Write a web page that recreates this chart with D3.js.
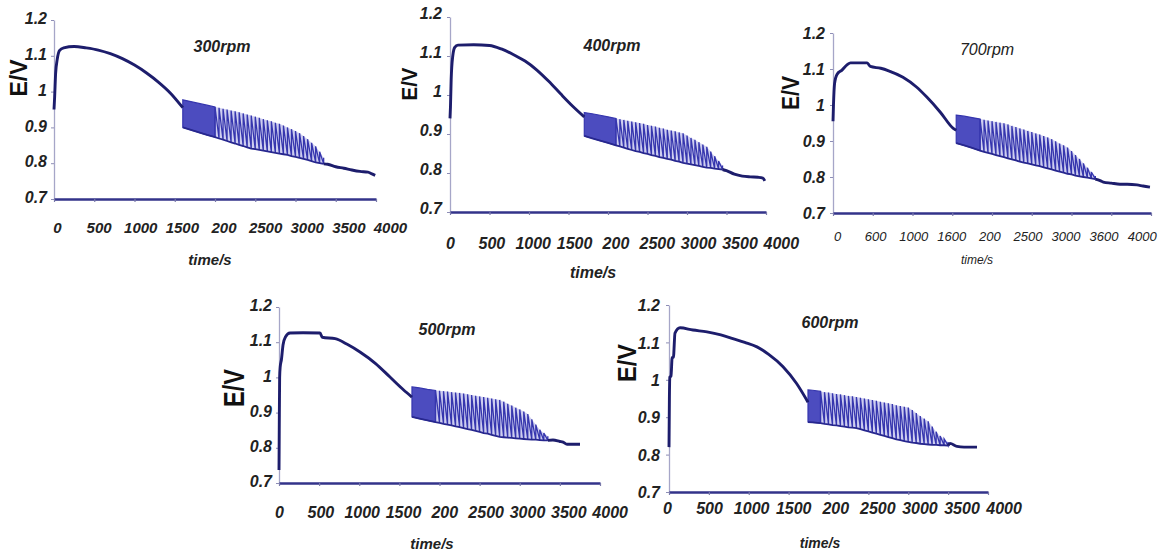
<!DOCTYPE html>
<html>
<head>
<meta charset="utf-8">
<script src="https://cdn.jsdelivr.net/npm/d3@7"></script>
<style>
    body { margin: 0; background: #fff; }
    text { font-family: "Liberation Sans", Arial, sans-serif; }
</style>
</head>
<body>
<script>
// tick values and labels (labels copied as printed, typos included)
const yTicks = [0.7, 0.8, 0.9, 1.0, 1.1, 1.2];
const yTickLabels = ['0.7', '0.8', '0.9', '1', '1.1', '1.2'];
const xTicks = [0, 500, 1000, 1500, 2000, 2500, 3000, 3500, 4000];
const xTickLabels = ['0', '500', '1000', '1500', '200', '2500', '3000', '3500', '4000'];
const xTickLabels700 = ['0', '600', '1000', '1600', '200', '2500', '3000', '3600', '4000'];

// ---- 300 rpm ----  [time, E]
const rise300 = [[0, 0.95], [8, 0.985], [20, 1.05], [40, 1.09], [70, 1.115], [120, 1.122], [250, 1.126],
    [400, 1.122], [550, 1.116], [700, 1.106], [850, 1.092], [1000, 1.074], [1150, 1.052], [1300, 1.026],
    [1450, 0.995], [1600, 0.955]];
// [time, high, low]
const dense300 = [[1600, 0.977, 0.900], [1700, 0.972, 0.893], [1800, 0.967, 0.886], [1900, 0.962, 0.879], [2000, 0.957, 0.873]];
const osc300 = [[2000, .957, .873], [2050, .955, .869], [2100, .952, .866], [2150, .950, .862], [2200, .947, .858],
    [2250, .945, .855], [2300, .942, .851], [2350, .939, .848], [2400, .936, .844], [2450, .933, .841],
    [2500, .930, .839], [2550, .927, .837], [2600, .923, .835], [2650, .920, .833], [2700, .917, .831],
    [2750, .913, .829], [2800, .910, .827], [2850, .905, .825], [2900, .900, .823], [2950, .895, .820],
    [3000, .890, .818], [3050, .884, .815], [3100, .876, .812], [3150, .867, .809], [3200, .857, .806],
    [3250, .847, .802], [3300, .832, .800], [3350, .815, .798]];
const tail300 = [[3400, 0.797], [3500, 0.790], [3600, 0.786], [3700, 0.781], [3800, 0.777], [3900, 0.775], [3950, 0.770], [3990, 0.766]];

// ---- 400 rpm ----
const rise400 = [[0, 0.94], [6, 0.97], [15, 1.04], [35, 1.10], [60, 1.122], [100, 1.128], [300, 1.129], [500, 1.127],
    [650, 1.118], [800, 1.104], [950, 1.087], [1100, 1.064], [1250, 1.035], [1400, 1.003], [1550, 0.972], [1700, 0.944]];
const dense400 = [[1700, 0.955, 0.895], [1800, 0.952, 0.889], [1900, 0.948, 0.883], [2000, 0.944, 0.877], [2100, 0.940, 0.871]];
const osc400 = [[2100, .940, .871], [2150, .938, .868], [2200, .936, .865], [2250, .934, .862], [2300, .932, .859],
    [2350, .930, .856], [2400, .928, .854], [2450, .926, .851], [2500, .923, .849], [2550, .921, .846],
    [2600, .919, .844], [2650, .916, .841], [2700, .914, .839], [2750, .911, .836], [2800, .909, .834],
    [2850, .907, .831], [2900, .904, .829], [2950, .902, .826], [3000, .896, .824], [3050, .890, .822],
    [3100, .885, .820], [3150, .879, .818], [3200, .873, .816], [3250, .867, .814], [3300, .855, .813],
    [3350, .843, .811], [3400, .831, .810], [3450, .819, .809]];
const tail400 = [[3500, 0.806], [3600, 0.797], [3700, 0.792], [3800, 0.790], [3900, 0.789], [3960, 0.787], [3985, 0.780]];

// ---- 700 rpm ----
const rise700 = [[0, 0.955], [6, 1.0], [20, 1.06], [50, 1.085], [113, 1.097], [180, 1.112], [220, 1.117], [430, 1.117],
    [470, 1.107], [600, 1.102], [700, 1.095], [880, 1.077], [1050, 1.05], [1180, 1.022], [1350, 0.98], [1509, 0.936], [1550, 0.93]];
const dense700 = [[1550, 0.972, 0.894], [1650, 0.969, 0.888], [1750, 0.965, 0.881], [1850, 0.961, 0.873]];
const osc700 = [[1850, .961, .873], [1900, .959, .870], [1950, .957, .867], [2000, .955, .864], [2050, .953, .861],
    [2100, .951, .858], [2150, .949, .855], [2200, .946, .852], [2250, .942, .849], [2300, .939, .846],
    [2350, .935, .843], [2400, .932, .840], [2450, .928, .838], [2500, .925, .835], [2550, .921, .832],
    [2600, .918, .830], [2650, .914, .827], [2700, .910, .824], [2750, .905, .821], [2800, .899, .818],
    [2850, .893, .815], [2900, .888, .812], [2950, .882, .809], [3000, .872, .807], [3050, .861, .804],
    [3100, .850, .802], [3150, .838, .800], [3200, .826, .798], [3250, .814, .796], [3300, .803, .794]];
const tail700 = [[3360, 0.790], [3400, 0.786], [3500, 0.783], [3610, 0.780], [3700, 0.780], [3824, 0.778], [3900, 0.775], [3987, 0.772]];

// ---- 500 rpm ----
const rise500 = [[0, 0.737], [3, 0.85], [8, 1.0], [15, 1.03], [30, 1.05], [50, 1.092], [80, 1.115], [137, 1.126], [300, 1.127],
    [511, 1.126], [540, 1.114], [700, 1.11], [850, 1.094], [1009, 1.072], [1200, 1.04], [1383, 1.001], [1550, 0.965], [1657, 0.944]];
const dense500 = [[1657, 0.973, 0.888], [1750, 0.970, 0.883], [1850, 0.966, 0.878], [1950, 0.963, 0.873]];
const osc500 = [[1950, .963, .873], [2000, .962, .871], [2050, .961, .868], [2100, .960, .866], [2150, .958, .864],
    [2200, .957, .861], [2250, .956, .859], [2300, .954, .856], [2350, .952, .853], [2400, .950, .851],
    [2450, .948, .848], [2500, .946, .845], [2550, .944, .842], [2600, .942, .840], [2650, .940, .837],
    [2700, .938, .834], [2750, .936, .831], [2800, .931, .830], [2850, .925, .829], [2900, .920, .828],
    [2950, .914, .827], [3000, .909, .826], [3050, .903, .825], [3100, .896, .824], [3150, .881, .823],
    [3200, .866, .823], [3250, .851, .822], [3300, .842, .821], [3350, .833, .821]];
const tail500 = [[3414, 0.822], [3500, 0.818], [3540, 0.816], [3589, 0.810], [3650, 0.810], [3751, 0.810]];

// ---- 600 rpm ----
const rise600 = [[0, 0.82], [5, 0.95], [10, 1.007], [25, 1.01], [40, 1.06], [55, 1.06], [75, 1.125], [138, 1.139], [300, 1.133],
    [476, 1.128], [650, 1.12], [800, 1.11], [950, 1.10], [1103, 1.088], [1250, 1.068], [1430, 1.035], [1600, 0.99], [1743, 0.94]];
const dense600 = [[1743, 0.973, 0.887], [1800, 0.972, 0.886], [1900, 0.969, 0.884]];
const osc600 = [[1900, .969, .884], [1950, .967, .882], [2000, .966, .881], [2050, .964, .879], [2100, .962, .878],
    [2150, .961, .876], [2200, .959, .875], [2250, .957, .873], [2300, .956, .872], [2350, .954, .871],
    [2400, .952, .868], [2450, .950, .865], [2500, .948, .862], [2550, .946, .859], [2600, .944, .856],
    [2650, .941, .853], [2700, .939, .850], [2750, .937, .847], [2800, .935, .844], [2850, .932, .841],
    [2900, .930, .839], [2950, .928, .836], [3000, .926, .834], [3050, .919, .832], [3100, .911, .831],
    [3150, .903, .829], [3200, .896, .828], [3250, .889, .827], [3300, .875, .826], [3350, .861, .826],
    [3400, .850, .825], [3450, .842, .825], [3500, .834, .824]];
const tail600 = [[3523, 0.830], [3611, 0.822], [3700, 0.820], [3862, 0.820]];

// layout of each small chart (pixel boxes)
// lbl: [offset, spread] for x tick labels, which drift from their ticks in the original
const panels = [
    { name: '300rpm', rise: rise300, dense: dense300, osc: osc300, tail: tail300, xl: xTickLabels,
      x0: 54, x1: 376, yTop: 20, yBot: 199, yLabX: 47, yLabDy: -2, xLabY: 233, xFont: 15, lbl: [3, 1.034],
      time: [210, 265, 15], rpm: [222, 52], ev: [18, 78, 37, 24] },
    { name: '400rpm', rise: rise400, dense: dense400, osc: osc400, tail: tail400, xl: xTickLabels,
      x0: 450, x1: 766, yTop: 17, yBot: 212, yLabX: 442, yLabDy: -4, xLabY: 249, xFont: 16, lbl: [0, 1.047],
      time: [593, 278, 16], rpm: [612, 51], ev: [409, 84, 33, 22] },
    { name: '700rpm', rise: rise700, dense: dense700, osc: osc700, tail: tail700, xl: xTickLabels700,
      x0: 833, x1: 1151, yTop: 33, yBot: 213, yLabX: 825, yLabDy: 0, xLabY: 241, xFont: 13, lbl: [4, 0.958],
      time: [977, 264, 12], rpm: [987, 55], ev: [791, 93, 34, 23] },
    { name: '500rpm', rise: rise500, dense: dense500, osc: osc500, tail: tail500, xl: xTickLabels,
      x0: 279, x1: 600, yTop: 307, yBot: 483, yLabX: 272, yLabDy: -2, xLabY: 518, xFont: 16, lbl: [0, 1.03],
      time: [432, 549, 15], rpm: [447, 335], ev: [233, 388, 38, 30] },
    { name: '600rpm', rise: rise600, dense: dense600, osc: osc600, tail: tail600, xl: xTickLabels,
      x0: 669, x1: 988, yTop: 305, yBot: 492, yLabX: 660, yLabDy: 0, xLabY: 514, xFont: 16, lbl: [-2, 1.055],
      time: [820, 548, 14], rpm: [830, 328], ev: [627, 363, 38, 25] }
];

const navy = '#1d1d6c';
const osc = '#3636ae';

const svg = d3.select('body').append('svg')
    .attr('width', 1158)
    .attr('height', 552);

function drawPanel(p) {
    let x = d3.scaleLinear().domain([0, 4000]).range([p.x0, p.x1]);
    let y = d3.scaleLinear().domain([0.7, 1.2]).range([p.yBot, p.yTop]);
    let g = svg.append('g').attr('class', 'panel');

    // y axis: thin grey-blue with small ticks
    let yAxis = g.append('g')
        .attr('transform', `translate(${p.x0},0)`)
        .call(d3.axisLeft(y).tickValues(yTicks).tickFormat((d, i) => yTickLabels[i]).tickSize(3).tickSizeOuter(0));
    yAxis.select('.domain').attr('stroke', '#a6a6c8').attr('stroke-width', 1.3);
    yAxis.selectAll('.tick line').attr('stroke', '#8e8eb6');
    yAxis.selectAll('.tick text')
        .attr('x', p.yLabX - p.x0)
        .attr('dy', '0.36em')
        .attr('transform', `translate(0,${p.yLabDy})`)
        .attr('text-anchor', 'end')
        .attr('fill', '#222')
        .style('font-size', '16px')
        .style('font-weight', 'bold')
        .style('font-style', 'italic');

    // x axis: thick navy line, ticks below
    let xAxis = g.append('g')
        .attr('transform', `translate(0,${p.yBot})`)
        .call(d3.axisBottom(x).tickValues(xTicks).tickFormat((d, i) => p.xl[i]).tickSize(3).tickSizeOuter(0));
    xAxis.select('.domain').attr('stroke', '#33338a').attr('stroke-width', 2.6);
    xAxis.selectAll('.tick line').attr('stroke', '#7a7aaa').attr('stroke-width', 1.2);
    xAxis.selectAll('.tick text')
        .attr('y', p.xLabY - p.yBot)
        .attr('dy', 0)
        .attr('x', d => p.lbl[0] + (x(d) - p.x0) * (p.lbl[1] - 1))
        .attr('fill', '#222')
        .style('font-size', p.xFont + 'px')
        .style('font-weight', p.xFont < 14 ? 'normal' : 'bold')
        .style('font-style', 'italic');

    let line = d3.line().x(d => x(d[0])).y(d => y(d[1]));
    let smooth = d3.line().x(d => x(d[0])).y(d => y(d[1])).curve(d3.curveMonotoneX);

    // light wash behind the oscillating part
    g.append('path')
        .datum(p.osc)
        .attr('d', d3.area().x(d => x(d[0])).y0(d => y(d[2])).y1(d => y(d[1])))
        .attr('fill', '#aeaee6')
        .attr('opacity', 0.6);

    // dense part right after the jump: drawn as a filled band
    g.append('path')
        .datum(p.dense)
        .attr('d', d3.area().x(d => x(d[0])).y0(d => y(d[2])).y1(d => y(d[1])))
        .attr('fill', '#4c4cbf')
        .attr('stroke', osc)
        .attr('stroke-width', 1.2);

    // oscillations: rise up to high, fall to next low
    let saw = [];
    p.osc.forEach(d => {
        saw.push([d[0], d[2]]);
        saw.push([d[0], d[1]]);
    });
    g.append('path')
        .datum(saw)
        .attr('d', line)
        .attr('fill', 'none')
        .attr('stroke', osc)
        .attr('stroke-width', 1.3);

    // darker bottom edge of the band
    g.append('path')
        .datum(p.dense.map(d => [d[0], d[2]]).concat(p.osc.map(d => [d[0], d[2]])))
        .attr('d', line)
        .attr('fill', 'none')
        .attr('stroke', '#27278e')
        .attr('stroke-width', 1.8);

    // smooth first part
    g.append('path')
        .datum(p.rise)
        .attr('d', smooth)
        .attr('fill', 'none')
        .attr('stroke', navy)
        .attr('stroke-width', 2.9)
        .attr('stroke-linejoin', 'round');

    // tail after the oscillations stop
    let last = p.osc[p.osc.length - 1];
    g.append('path')
        .datum([[last[0], last[2]]].concat(p.tail))
        .attr('d', smooth)
        .attr('fill', 'none')
        .attr('stroke', navy)
        .attr('stroke-width', 2.9)
        .attr('stroke-linejoin', 'round');

    // labels
    g.append('text')
        .attr('x', p.time[0])
        .attr('y', p.time[1])
        .attr('text-anchor', 'middle')
        .attr('fill', '#222')
        .style('font-size', p.time[2] + 'px')
        .style('font-weight', p.time[2] < 14 ? 'normal' : 'bold')
        .style('font-style', 'italic')
        .text('time/s');

    g.append('text')
        .attr('x', p.rpm[0])
        .attr('y', p.rpm[1])
        .attr('text-anchor', 'middle')
        .attr('fill', '#222')
        .style('font-size', '16px')
        .style('font-weight', p.name == '700rpm' ? 'normal' : 'bold')
        .style('font-style', 'italic')
        .text(p.name);

    g.append('text')
        .attr('transform', `translate(${p.ev[0]},${p.ev[1]}) rotate(-90)`)
        .attr('text-anchor', 'middle')
        .attr('dy', '0.36em')
        .attr('textLength', p.ev[2])
        .attr('lengthAdjust', 'spacingAndGlyphs')
        .attr('fill', '#111')
        .style('font-size', p.ev[3] + 'px')
        .style('font-weight', 'bold')
        .text('E/V');
}

panels.forEach(drawPanel);
</script>
</body>
</html>
